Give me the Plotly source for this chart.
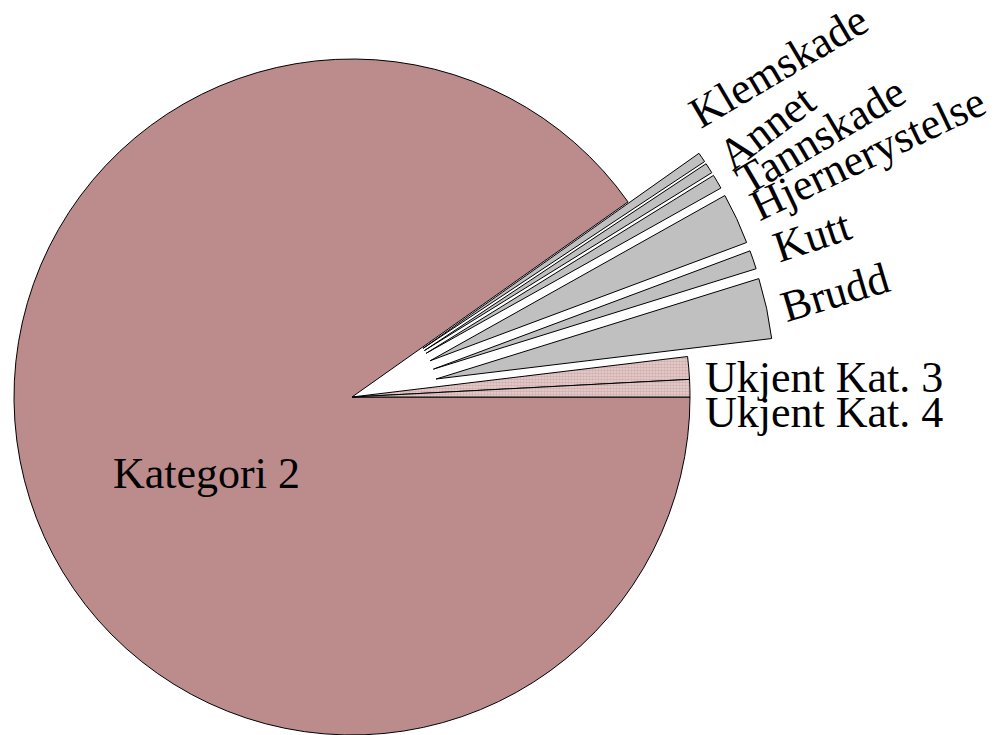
import math
import plotly.graph_objects as go

# ---------------- data ----------------
categories = ["Kategori 2", "Klemskade", "Annet", "Tannskade", "Hjernerystelse",
              "Kutt", "Brudd", "Ukjent Kat. 3", "Ukjent Kat. 4"]
values = [90.19, 0.47, 0.50, 0.69, 2.44, 0.89, 2.89, 1.08, 0.83]

# ---------------- style / layout ----------------
W, H = 1005, 735
CX, CY, R = 352, 397, 338          # pie centre and radius in pixels
PULL = [0, 86, 86, 86, 86, 86, 86, 0, 0]   # explode distance (px)
ROSE = "#BC8C8C"
LIGHT_ROSE = "#E8D2D2"
GREY = "#C0C0C0"
NONE = "rgba(0,0,0,0)"
FONT = "Liberation Serif, Times New Roman, serif"
FS = 44

# label placement: baseline start (px) and text angle (deg, counter-clockwise)
label_layout = {
    "Klemskade": (701, 130, 30.5),
    "Annet": (733, 172, 37.0),
    "Tannskade": (747, 197, 30.6),
    "Hjernerystelse": (760, 222, 25.5),
    "Kutt": (780, 263, 18.4),
    "Brudd": (787, 322, 16.6),
    "Ukjent Kat. 3": (705, 392, 0.0),
    "Ukjent Kat. 4": (705, 427, 0.0),
    "Kategori 2": (113, 488, 0.0),
}

# Times-compatible advance widths (per 1000 em)
TW = {"K": 722, "l": 278, "e": 444, "m": 778, "s": 389, "k": 500, "a": 444,
      "d": 500, "A": 722, "n": 500, "t": 278, "T": 611, "H": 722, "j": 278,
      "r": 333, "y": 500, "u": 500, "B": 667, "U": 722, ".": 250, " ": 250,
      "2": 500, "3": 500, "4": 500, "g": 500, "o": 500, "i": 278}


def text_width(s):
    return sum(TW.get(c, 500) for c in s) / 1000 * FS


total = sum(values)
n = len(values)
cum = 0.0
mid_deg = []
for v in values:
    # clockwise from 3 o'clock -> math angle (ccw from +x)
    mid_deg.append(-((cum + v / 2) / total * 360.0))
    cum += v


def domain_for(dx, dy):
    x0 = (CX - R + dx) / W
    x1 = (CX + R + dx) / W
    top = CY - R + dy
    bot = CY + R + dy
    y0 = 1 - bot / H
    y1 = 1 - top / H
    return dict(x=[max(0.0, x0), min(1.0, x1)], y=[max(0.0, y0), min(1.0, y1)])


fig = go.Figure()

# main (un-exploded) slices
main_colors = []
main_lw = []
main_shapes = []
for i, c in enumerate(categories):
    if PULL[i] == 0:
        if c.startswith("Ukjent"):
            main_colors.append(LIGHT_ROSE)
            main_shapes.append(".")
        else:
            main_colors.append(ROSE)
            main_shapes.append("")
        main_lw.append(1)
    else:
        main_colors.append(NONE)
        main_shapes.append("")
        main_lw.append(0)

fig.add_trace(go.Pie(
    labels=categories, values=values, sort=False, direction="clockwise",
    rotation=90, textinfo="none", hoverinfo="label+percent", showlegend=False,
    marker=dict(colors=main_colors,
                line=dict(color="black", width=main_lw),
                pattern=dict(shape=main_shapes, fgcolor=ROSE, bgcolor=LIGHT_ROSE,
                             size=3, solidity=0.6, fillmode="overlay")),
    domain=domain_for(0, 0),
))

# exploded slices, each drawn as its own shifted pie
for i, c in enumerate(categories):
    if PULL[i] == 0:
        continue
    ang = math.radians(mid_deg[i])
    dx = PULL[i] * math.cos(ang)
    dy = -PULL[i] * math.sin(ang)
    cols = [GREY if j == i else NONE for j in range(n)]
    lws = [1 if j == i else 0 for j in range(n)]
    fig.add_trace(go.Pie(
        labels=categories, values=values, sort=False, direction="clockwise",
        rotation=90, textinfo="none", hoverinfo="label+percent", showlegend=False,
        marker=dict(colors=cols, line=dict(color="black", width=lws)),
        domain=domain_for(dx, dy),
    ))

# labels
annotations = []
for c in categories:
    bx, by, th = label_layout[c]
    w = text_width(c)
    h = 0.3375 * FS
    t = math.radians(th)
    cxl = bx + (w / 2) * math.cos(t) - h * math.sin(t)
    cyl = by - (w / 2) * math.sin(t) - h * math.cos(t)
    annotations.append(dict(
        x=cxl / W, y=1 - cyl / H, xref="paper", yref="paper",
        text=c, showarrow=False, textangle=-th,
        xanchor="center", yanchor="middle",
        font=dict(family=FONT, size=FS, color="black"),
    ))

fig.update_layout(
    width=W, height=H, margin=dict(l=0, r=0, t=0, b=0),
    paper_bgcolor="white", plot_bgcolor="white",
    annotations=annotations, showlegend=False,
)

fig.write_html(
    "out.html",
    config={"displayModeBar": False},
    post_script="document.body.style.margin='0';document.body.style.overflow='hidden';",
)
